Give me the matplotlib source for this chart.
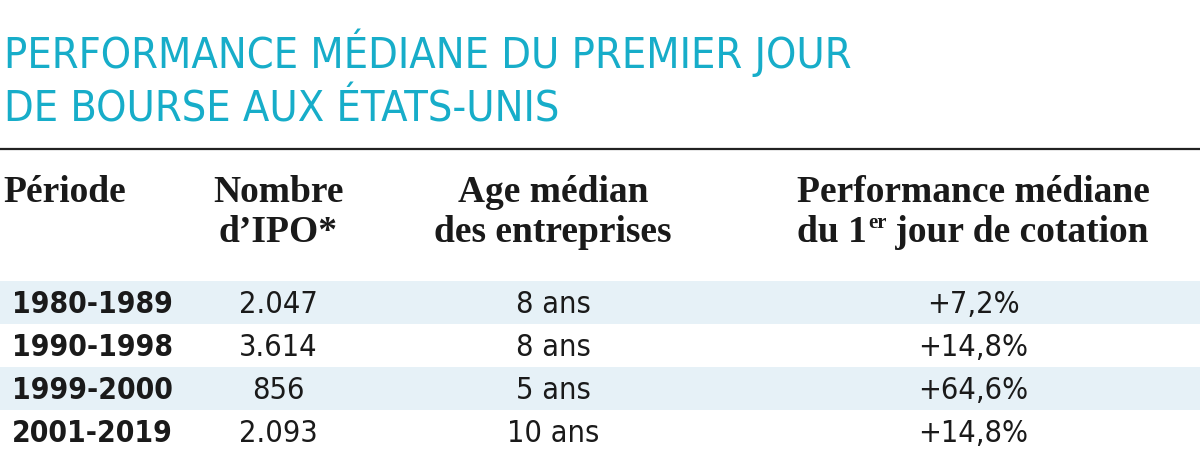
import matplotlib
matplotlib.use("Agg")
import matplotlib.pyplot as plt
from matplotlib.patches import Rectangle

# ---- data ----
title_lines = ["PERFORMANCE MÉDIANE DU PREMIER JOUR", "DE BOURSE AUX ÉTATS-UNIS"]
header_periode = ["Période"]
header_nombre = ["Nombre", "d’IPO*"]
header_age = ["Age médian", "des entreprises"]
header_perf_1 = "Performance médiane"
header_perf_2 = ["du 1", "er", " jour de cotation"]
periodes = ["1980-1989", "1990-1998", "1999-2000", "2001-2019"]
nombre_ipo = ["2.047", "3.614", "856", "2.093"]
age_median = ["8 ans", "8 ans", "5 ans", "10 ans"]
performance = ["+7,2%", "+14,8%", "+64,6%", "+14,8%"]

TITLE_COLOR = "#17adc9"
TEXT_COLOR = "#1a1a1a"
BAND_COLOR = "#e6f1f7"

narrow = ['DejaVu Sans']
serif = ['Liberation Serif', 'DejaVu Serif']

W, H = 1200, 462
fig = plt.figure(figsize=(W / 100, H / 100), dpi=100)
ax = fig.add_axes([0, 0, 1, 1])
ax.set_xlim(0, W)
ax.set_ylim(H, 0)
ax.axis('off')
renderer = fig.canvas.get_renderer()

# title
for i, line in enumerate(title_lines):
    ax.text(4, 68 + i * 54, line, color=TITLE_COLOR, family=narrow,
            fontsize=31, ha='left', va='baseline', fontstretch='condensed')

# rule
ax.plot([0, W], [149, 149], color="#222222", lw=1.6, solid_capstyle='butt')

# header
hdr_kw = dict(family=serif, fontweight='bold', color=TEXT_COLOR, va='baseline')
col_x = [3, 278, 553, 973]
ax.text(col_x[0], 202, header_periode[0], ha='left', fontsize=27, **hdr_kw)
for hdr, x in zip([header_nombre, header_age], col_x[1:3]):
    for j, line in enumerate(hdr):
        ax.text(x, 202 + j * 40, line, ha='center', fontsize=27, **hdr_kw)
ax.text(col_x[3], 202, header_perf_1, ha='center', fontsize=27, **hdr_kw)

# second line of last header, with superscript "er"
sizes = [27, 15, 27]
raises = [0, -14, 0]
parts = []
for s, fs in zip(header_perf_2, sizes):
    t = ax.text(0, 242, s, ha='left', fontsize=fs, **hdr_kw)
    parts.append(t)
widths = [t.get_window_extent(renderer).width for t in parts]
gap = [0, 1, 0]
total = sum(widths) + sum(gap)
x = col_x[3] - total / 2
for t, w, r, g in zip(parts, widths, raises, gap):
    x += g
    t.set_position((x, 242 + r))
    x += w

# rows
row_top = 281
row_h = 43
for i, (p, n, a, pf) in enumerate(zip(periodes, nombre_ipo, age_median, performance)):
    y0 = row_top + i * row_h
    if i % 2 == 0:
        ax.add_patch(Rectangle((0, y0), W, row_h, color=BAND_COLOR, lw=0, zorder=0))
    base = y0 + 32
    ax.text(12, base, p, family=narrow, fontsize=21.5, fontweight='bold', color=TEXT_COLOR,
            ha='left', va='baseline', fontstretch='condensed')
    for val, xc in zip([n, a, pf], col_x[1:]):
        ax.text(xc, base, val, family=narrow, fontsize=22, color=TEXT_COLOR,
                ha='center', va='baseline', fontstretch='condensed')

fig.savefig("out.png", dpi=100, facecolor='white')
